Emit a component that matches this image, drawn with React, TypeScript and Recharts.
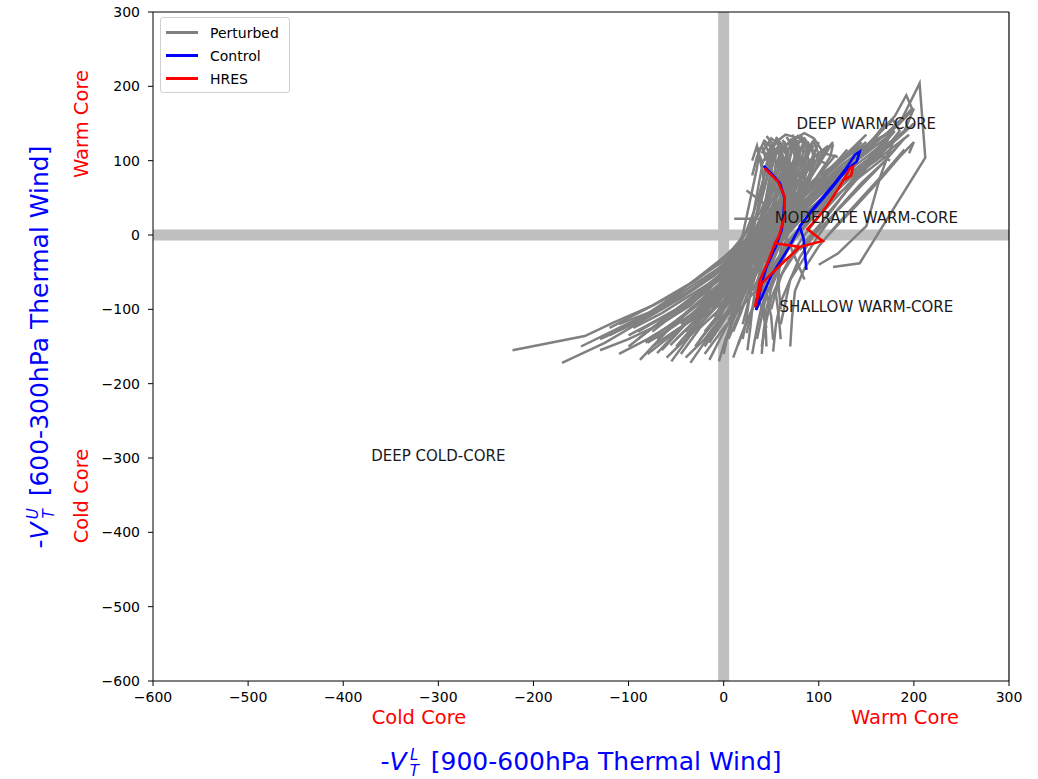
import React from 'react';
import { ComposedChart, Line, XAxis, YAxis, ReferenceLine, ReferenceDot } from 'recharts';

type Pt = [number, number];

const DOMAIN: [number, number] = [-600, 300];
const X_TICKS = [-600, -500, -400, -300, -200, -100, 0, 100, 200, 300];
const Y_TICKS = [-600, -500, -400, -300, -200, -100, 0, 100, 200, 300];

// deterministic runs
const CONTROL: Pt[] = [
  [42, 93], [50, 83], [59, 70], [64, 50], [63, 29], [61, 7], [55, -15], [45, -43], [40, -65], [34, -101],
  [50, -55], [68, -18], [80, 11], [91, 31], [115, 67], [129, 90], [138, 108], [143, 112], [140, 99],
  [128, 86], [105, 50], [88, 25], [80, 12], [84, -5], [87, -47],
];
const HRES: Pt[] = [
  [43, 90], [57, 72], [64, 52], [64, 25], [58, -2], [54, -11], [46, -38], [38, -61], [33, -97], [40, -65],
  [60, -40], [80, -16], [54, -11], [80, -16], [104, -8], [88, 8], [98, 22], [108, 38], [122, 65], [133, 90],
  [136, 92], [134, 80], [127, 74],
];

// ensemble members
const pf01: Pt[] = [[-222, -155], [-146, -136], [-116, -118], [-75, -95], [-35, -65], [0, -35], [25, -5], [45, 25], [60, 60], [70, 95], [62, 120], [50, 100]];
const pf02: Pt[] = [[-170, -172], [-125, -145], [-85, -115], [-45, -85], [-10, -55], [15, -25], [35, 5], [55, 40], [75, 75], [95, 105], [110, 120], [100, 95]];
const pf03: Pt[] = [[-110, -120], [-70, -100], [-35, -75], [-5, -45], [20, -15], [45, 15], [70, 45], [100, 80], [135, 110], [170, 135], [190, 160]];
const pf04: Pt[] = [[-88, -168], [-60, -130], [-30, -95], [0, -60], [25, -30], [50, 0], [80, 40], [115, 80], [150, 115], [185, 150], [206, 204], [212, 104], [143, -38], [115, -43]];
const pf05: Pt[] = [[-82, -145], [-50, -115], [-20, -85], [10, -50], [30, -20], [45, 10], [60, 45], [70, 80], [80, 110], [75, 130], [60, 115]];
const pf06: Pt[] = [[-70, -159], [-45, -125], [-15, -95], [10, -65], [30, -35], [50, -5], [70, 25], [95, 60], [125, 95], [150, 120], [140, 100]];
const pf07: Pt[] = [[-56, -148], [-30, -115], [-5, -85], [15, -55], [35, -25], [55, 10], [75, 45], [90, 80], [95, 110], [85, 130], [70, 115]];
const pf08: Pt[] = [[-35, -172], [-15, -135], [5, -100], [20, -70], [35, -40], [50, -10], [65, 25], [80, 60], [100, 95], [115, 125], [105, 110]];
const pf09: Pt[] = [[-15, -168], [0, -130], [15, -95], [30, -60], [45, -30], [60, 0], [80, 30], [110, 65], [140, 95], [170, 125], [180, 140]];
const pf10: Pt[] = [[-25, -141], [-5, -110], [10, -80], [25, -50], [40, -20], [50, 15], [55, 50], [50, 90], [40, 120], [45, 100]];
const pf11: Pt[] = [[24, -132], [30, -100], [40, -70], [55, -40], [70, -10], [90, 20], [115, 55], [140, 85], [165, 110], [175, 125]];
const pf12: Pt[] = [[15, -148], [25, -115], [35, -85], [45, -55], [55, -25], [65, 5], [80, 35], [100, 65], [125, 95], [150, 115]];
const pf13: Pt[] = [[52, -157], [55, -120], [60, -90], [70, -60], [85, -30], [100, 0], [120, 35], [145, 70], [170, 100], [190, 130]];
const pf14: Pt[] = [[52, -141], [50, -110], [45, -80], [45, -50], [50, -20], [55, 15], [60, 50], [65, 85], [60, 120], [50, 130], [40, 110]];
const pf15: Pt[] = [[-60, -130], [-35, -100], [-10, -75], [15, -45], [35, -15], [55, 20], [70, 50], [85, 85], [90, 118], [80, 135]];
const pf16: Pt[] = [[-45, -160], [-25, -125], [0, -95], [20, -65], [40, -35], [60, -5], [85, 30], [115, 60], [145, 90], [170, 115], [200, 150]];
const pf17: Pt[] = [[0, -150], [10, -115], [20, -85], [30, -55], [40, -25], [50, 5], [60, 40], [70, 75], [75, 105], [70, 125]];
const pf18: Pt[] = [[30, -160], [35, -125], [40, -95], [50, -65], [60, -35], [75, -5], [95, 25], [120, 55], [150, 85], [180, 115]];
const pf19: Pt[] = [[-100, -150], [-70, -120], [-40, -90], [-10, -60], [15, -30], [35, 0], [55, 30], [70, 65], [80, 100], [75, 125]];
const pf20: Pt[] = [[-5, -125], [10, -95], [25, -65], [40, -35], [55, -10], [70, 20], [90, 50], [115, 80], [140, 105], [160, 125]];
const pf21: Pt[] = [[-120, -135], [-85, -110], [-50, -80], [-20, -50], [5, -25], [30, 0], [50, 30], [65, 60], [75, 95], [85, 125], [90, 110]];
const pf22: Pt[] = [[-65, -155], [-40, -120], [-15, -90], [10, -60], [30, -30], [45, 0], [60, 30], [75, 60], [90, 95], [100, 125]];
const pf23: Pt[] = [[-30, -150], [-10, -115], [10, -85], [30, -55], [50, -25], [70, 5], [95, 40], [125, 75], [160, 110], [190, 140]];
const pf24: Pt[] = [[-80, -160], [-50, -130], [-25, -100], [0, -70], [20, -40], [40, -10], [60, 20], [80, 50], [95, 85], [105, 115]];
const pf25: Pt[] = [[40, -150], [45, -115], [50, -85], [60, -55], [75, -25], [95, 5], [115, 35], [135, 70], [155, 105], [170, 130]];
const pf26: Pt[] = [[10, -165], [20, -130], [30, -100], [40, -70], [50, -40], [60, -10], [70, 25], [75, 60], [70, 95], [55, 115], [45, 95]];
const pf27: Pt[] = [[-50, -140], [-25, -110], [0, -80], [20, -50], [40, -20], [60, 10], [80, 45], [105, 80], [130, 110], [150, 135]];
const pf28: Pt[] = [[-40, -130], [-20, -100], [0, -70], [15, -40], [25, -10], [30, 20], [35, 55], [40, 90], [35, 120], [30, 100]];
const pf29: Pt[] = [[-90, -140], [-60, -110], [-30, -85], [-5, -55], [20, -25], [40, 5], [55, 35], [65, 70], [70, 105], [75, 130], [65, 120]];
const pf30: Pt[] = [[5, -140], [15, -110], [25, -80], [35, -50], [45, -20], [55, 10], [65, 45], [75, 80], [80, 115], [72, 135]];
const pf31: Pt[] = [[-20, -160], [0, -125], [20, -95], [40, -65], [55, -35], [70, -5], [90, 25], [115, 60], [140, 90], [160, 110], [175, 100]];
const pf32: Pt[] = [[60, -120], [65, -90], [70, -60], [80, -30], [95, 0], [110, 30], [130, 60], [150, 90], [170, 115], [175, 140]];
const pf33: Pt[] = [[-10, -135], [5, -105], [20, -75], [35, -45], [50, -15], [62, 15], [72, 50], [82, 85], [88, 118], [80, 130]];
const pf34: Pt[] = [[-130, -140], [-95, -120], [-60, -95], [-30, -70], [0, -45], [25, -20], [50, 10], [75, 40], [100, 70], [125, 100], [145, 125]];
const pf35: Pt[] = [[35, -140], [40, -110], [45, -80], [55, -50], [65, -20], [80, 10], [100, 40], [125, 70], [150, 100], [165, 120]];
const pf36: Pt[] = [[-55, -170], [-35, -135], [-10, -100], [15, -70], [35, -40], [50, -10], [60, 20], [65, 55], [65, 90], [58, 125]];
const pf37: Pt[] = [[11, 22], [45, 22], [60, 40], [72, 72], [80, 105], [78, 128]];
const pf38: Pt[] = [[24, 60], [40, 45], [55, 25], [65, 0], [75, -30], [85, -60]];
const pf39: Pt[] = [[60, 0], [90, 40], [120, 80], [150, 120], [180, 160], [192, 188], [198, 170], [170, 130], [130, 90]];
const pf40: Pt[] = [[80, -20], [110, 20], [140, 60], [170, 100], [178, 125], [165, 80], [150, 12], [120, -25], [100, -40]];
const pf41: Pt[] = [[30, -30], [70, 20], [110, 70], [150, 120], [178, 155], [185, 140], [160, 100]];
const pf42: Pt[] = [[45, 100], [55, 125], [65, 110], [78, 133], [88, 115], [95, 128], [85, 95]];
const pf43: Pt[] = [[-150, -150], [-110, -125], [-70, -100], [-35, -70], [0, -40], [30, -10], [60, 25], [90, 60], [120, 95], [150, 125]];
const pf44: Pt[] = [[-45, -120], [-20, -90], [5, -60], [30, -35], [55, -5], [85, 30], [120, 65], [160, 100], [195, 135]];
const pf45: Pt[] = [[70, -150], [72, -110], [75, -75], [85, -45], [100, -15], [120, 15], [145, 50], [170, 85], [190, 115]];
const pf46: Pt[] = [[-20, -150], [-5, -120], [10, -100], [15, -70], [25, -45], [30, -15], [40, 15], [45, 45], [50, 80], [48, 110], [55, 125]];
const pf47: Pt[] = [[-40, -165], [-20, -140], [-5, -115], [5, -85], [15, -60], [20, -30], [30, 0], [35, 30], [40, 65], [45, 95], [50, 118], [42, 128]];
const pf48: Pt[] = [[-60, -115], [-35, -95], [-15, -70], [0, -50], [10, -25], [20, 0], [25, 30], [30, 60], [35, 90], [38, 118]];
const pf49: Pt[] = [[20, -120], [25, -95], [30, -70], [35, -45], [40, -20], [45, 5], [52, 35], [60, 65], [68, 95], [72, 120], [66, 132]];
const pf50: Pt[] = [[-75, -130], [-50, -105], [-25, -80], [-5, -60], [10, -40], [25, -20], [40, 5], [55, 30], [70, 55], [85, 80], [95, 100]];
const pf51: Pt[] = [[0, -160], [5, -130], [10, -105], [20, -80], [30, -60], [40, -35], [55, -10], [70, 15], [85, 40], [100, 65], [110, 85]];
const pf52: Pt[] = [[45, -125], [40, -100], [35, -75], [38, -50], [42, -25], [48, 0], [55, 28], [62, 58], [70, 90], [78, 115], [90, 125]];
const pf53: Pt[] = [[-95, -125], [-65, -105], [-40, -85], [-15, -65], [5, -45], [20, -25], [35, -5], [50, 20], [62, 50], [70, 80], [80, 105]];
const pf54: Pt[] = [[-10, -110], [0, -90], [12, -65], [25, -40], [38, -15], [50, 10], [65, 35], [80, 60], [92, 85], [100, 108], [95, 125]];
const pf55: Pt[] = [[25, -155], [28, -125], [30, -100], [33, -75], [38, -50], [45, -25], [55, 0], [65, 25], [75, 50], [85, 75], [90, 100], [82, 122]];
const pf56: Pt[] = [[-30, -120], [-12, -100], [0, -80], [10, -60], [18, -35], [25, -10], [32, 15], [38, 40], [42, 70], [40, 100], [35, 115]];
const pf57: Pt[] = [[60, -140], [58, -110], [55, -80], [58, -50], [62, -20], [70, 10], [80, 40], [90, 70], [95, 100], [92, 122]];
const pf58: Pt[] = [[-50, -150], [-30, -120], [-15, -95], [0, -75], [12, -50], [25, -25], [40, -2], [58, 22], [78, 48], [100, 75], [120, 100], [130, 115]];
const pf59: Pt[] = [[10, -130], [18, -105], [25, -80], [32, -55], [40, -30], [50, -5], [60, 20], [68, 45], [74, 72], [78, 98], [75, 118]];
const pf60: Pt[] = [[-15, -145], [-2, -118], [8, -92], [18, -68], [28, -45], [38, -22], [48, 2], [58, 28], [68, 55], [78, 82], [86, 108], [95, 120]];
const pf61: Pt[] = [[35, -100], [40, -75], [45, -50], [52, -25], [60, 0], [68, 25], [78, 50], [90, 75], [102, 98], [108, 118]];
const pf62: Pt[] = [[-70, -140], [-45, -112], [-22, -88], [-2, -65], [12, -42], [22, -18], [30, 8], [36, 35], [42, 62], [48, 90], [52, 112]];
const pf63: Pt[] = [[5, -115], [15, -90], [22, -65], [28, -40], [34, -15], [42, 10], [50, 35], [58, 62], [64, 88], [68, 112], [62, 128]];
const pf64: Pt[] = [[40, -160], [42, -130], [45, -100], [50, -72], [58, -45], [68, -18], [80, 8], [95, 35], [110, 60], [125, 85], [135, 102]];
const pf65: Pt[] = [[-35, -135], [-18, -110], [-4, -88], [8, -65], [20, -42], [32, -18], [44, 6], [56, 30], [66, 56], [74, 84], [78, 110], [70, 126]];
const pf66: Pt[] = [[15, -95], [22, -70], [30, -48], [40, -25], [50, -2], [62, 20], [75, 42], [90, 65], [105, 88], [118, 108]];
const pf67: Pt[] = [[-5, -100], [5, -78], [14, -55], [22, -32], [30, -8], [38, 18], [46, 44], [54, 70], [60, 96], [62, 120], [55, 132]];
const pf68: Pt[] = [[50, -100], [55, -75], [62, -50], [72, -25], [85, 0], [100, 25], [118, 50], [138, 78], [158, 105], [172, 128]];
const pf69: Pt[] = [[30, -75], [38, -55], [46, -35], [55, -15], [65, 8], [75, 32], [88, 58], [100, 82], [112, 105], [115, 122]];
const pf70: Pt[] = [[-25, -95], [-10, -75], [2, -55], [14, -35], [25, -15], [35, 8], [45, 32], [55, 58], [62, 85], [66, 110]];
const pf71: Pt[] = [[40, 95], [50, 120], [65, 135], [80, 130], [92, 118], [100, 100], [110, 95]];
const pf72: Pt[] = [[55, 90], [60, 115], [72, 128], [85, 137], [95, 130], [105, 110], [120, 105]];
const pf73: Pt[] = [[30, 80], [35, 105], [42, 125], [48, 110], [55, 128], [60, 112]];
const pf74: Pt[] = [[90, 40], [115, 70], [140, 100], [165, 130], [185, 150], [200, 170], [190, 140], [160, 105]];
const pf75: Pt[] = [[70, 30], [100, 60], [130, 95], [155, 125], [170, 150], [160, 130]];
const pf76: Pt[] = [[110, 0], [140, 40], [165, 75], [185, 105], [200, 125], [195, 110]];
const pf77: Pt[] = [[-60, -165], [-40, -140], [-25, -115], [-10, -90], [5, -70], [18, -48], [28, -25], [36, 0], [42, 28], [46, 58], [50, 88], [56, 112], [62, 124]];
const pf78: Pt[] = [[-100, -135], [-75, -118], [-50, -100], [-28, -80], [-8, -58], [8, -38], [22, -15], [34, 10], [44, 38], [52, 66], [58, 95], [60, 118]];
const pf79: Pt[] = [[-40, -105], [-22, -85], [-8, -62], [5, -40], [15, -18], [24, 6], [32, 32], [38, 58], [44, 84], [50, 108], [58, 120]];
const pf80: Pt[] = [[20, -140], [24, -112], [27, -86], [30, -60], [34, -35], [40, -10], [46, 16], [52, 42], [58, 70], [62, 98], [60, 122]];
const pf81: Pt[] = [[-5, -170], [2, -140], [10, -115], [18, -90], [26, -66], [34, -42], [42, -18], [52, 8], [62, 34], [72, 62], [80, 90], [84, 115]];
const pf82: Pt[] = [[-130, -155], [-100, -140], [-70, -122], [-45, -102], [-22, -80], [-5, -58], [10, -35], [22, -10], [32, 18], [40, 48], [46, 78], [48, 105]];
const pf83: Pt[] = [[-80, -145], [-55, -125], [-32, -105], [-12, -82], [4, -60], [16, -36], [26, -12], [36, 14], [46, 40], [55, 68], [64, 96], [70, 122]];
const pf84: Pt[] = [[45, -150], [44, -120], [42, -92], [42, -65], [45, -38], [50, -12], [56, 16], [62, 44], [66, 72], [68, 100], [64, 126]];
const pf85: Pt[] = [[-20, -130], [-6, -108], [6, -86], [16, -64], [26, -42], [36, -20], [46, 4], [56, 30], [65, 58], [72, 86], [76, 112], [70, 130]];
const pf86: Pt[] = [[60, -100], [58, -72], [58, -45], [60, -18], [65, 10], [72, 38], [80, 66], [86, 94], [88, 118], [82, 132]];
const pf87: Pt[] = [[-110, -160], [-80, -140], [-52, -118], [-28, -95], [-8, -72], [8, -50], [20, -28], [30, -5], [38, 20], [44, 46], [48, 74], [52, 100], [48, 124]];
const pf88: Pt[] = [[0, -95], [10, -72], [20, -50], [28, -28], [35, -5], [42, 20], [48, 46], [52, 72], [55, 98], [52, 122], [45, 133]];
const pf89: Pt[] = [[-90, -130], [-60, -108], [-35, -88], [-12, -68], [8, -48], [25, -28], [40, -6], [55, 18], [68, 45], [78, 75]];
const pf90: Pt[] = [[-75, -150], [-50, -128], [-25, -108], [-5, -88], [15, -66], [32, -44], [48, -20], [62, 6], [75, 32], [88, 60]];
const pf91: Pt[] = [[-120, -125], [-90, -105], [-60, -85], [-30, -62], [-8, -40], [10, -18], [25, 5], [38, 30], [48, 58], [55, 88]];

const PERTURBED: Pt[][] = [
  pf01, pf02, pf03, pf04, pf05, pf06, pf07, pf08, pf09, pf10, pf11, pf12, pf13, pf14, pf15,
  pf16, pf17, pf18, pf19, pf20, pf21, pf22, pf23, pf24, pf25, pf26, pf27, pf28, pf29, pf30,
  pf31, pf32, pf33, pf34, pf35, pf36, pf37, pf38, pf39, pf40, pf41, pf42, pf43, pf44, pf45,
  pf46, pf47, pf48, pf49, pf50, pf51, pf52, pf53, pf54, pf55, pf56, pf57, pf58, pf59, pf60,
  pf61, pf62, pf63, pf64, pf65, pf66, pf67, pf68, pf69, pf70, pf71, pf72, pf73, pf74, pf75,
  pf76, pf77, pf78, pf79, pf80, pf81, pf82, pf83, pf84, pf85, pf86, pf87, pf88, pf89, pf90, pf91,
];

const REGION_LABELS = [
  { text: 'DEEP WARM-CORE', x: 150, y: 150 },
  { text: 'MODERATE WARM-CORE', x: 150, y: 23 },
  { text: 'SHALLOW WARM-CORE', x: 150, y: -97 },
  { text: 'DEEP COLD-CORE', x: -300, y: -297 },
];

const LEGEND_ITEMS = [
  { name: 'Perturbed', color: '#808080' },
  { name: 'Control', color: '#0000ff' },
  { name: 'HRES', color: '#ff0000' },
];

const FONT = '"DejaVu Sans", sans-serif';
const BAND = '#bfbfbf';

const toPts = (track: Pt[]) => track.map(([x, y]) => ({ x, y }));
const fmtTick = (v: number) => (v < 0 ? `\u2212${Math.abs(v)}` : `${v}`);

// the thick grey zero lines, drawn as series so the tracks go over them
const vBand = DOMAIN.map((y) => ({ x: 0, y }));
const hBand = DOMAIN.map((x) => ({ x, y: 0 }));

function VT({ sup }: { sup: string }) {
  return (
    <span style={{ whiteSpace: 'nowrap' }}>
      <span>-</span>
      <span style={{ fontStyle: 'italic', marginRight: 3 }}>V</span>
      <span
        style={{
          display: 'inline-flex',
          flexDirection: 'column',
          verticalAlign: 'middle',
          fontSize: '0.6em',
          lineHeight: 1.1,
          fontStyle: 'italic',
          marginRight: 4,
        }}
      >
        <span>{sup}</span>
        <span>T</span>
      </span>
    </span>
  );
}

export default function App() {
  const tickStyle = { fill: '#000', fontSize: 14, fontFamily: FONT };
  const red = { position: 'absolute' as const, color: '#ff0000', fontSize: 19.5, fontFamily: FONT, whiteSpace: 'nowrap' as const };

  return (
    <div style={{ position: 'absolute', left: 0, top: 0, width: 1038, height: 779, background: '#fff', fontFamily: FONT }}>
      <ComposedChart width={1038} height={779} margin={{ top: 12, right: 29, bottom: 68, left: 0 }}>
        <XAxis
          dataKey="x"
          type="number"
          domain={DOMAIN}
          ticks={X_TICKS}
          tickFormatter={fmtTick}
          allowDataOverflow
          height={30}
          tick={tickStyle}
          tickSize={5}
          tickMargin={6}
          axisLine={{ stroke: '#000' }}
          tickLine={{ stroke: '#000' }}
        />
        <YAxis
          type="number"
          domain={DOMAIN}
          ticks={Y_TICKS}
          tickFormatter={fmtTick}
          allowDataOverflow
          width={153}
          tick={tickStyle}
          tickSize={5}
          tickMargin={8}
          axisLine={{ stroke: '#000' }}
          tickLine={{ stroke: '#000' }}
        />

        <Line data={vBand} dataKey="y" type="linear" stroke={BAND} strokeWidth={11} dot={false} activeDot={false} isAnimationActive={false} />
        <Line data={hBand} dataKey="y" type="linear" stroke={BAND} strokeWidth={11} dot={false} activeDot={false} isAnimationActive={false} />

        {PERTURBED.map((track, i) => (
          <Line
            key={`pf${i}`}
            data={toPts(track)}
            dataKey="y"
            type="linear"
            stroke="#808080"
            strokeWidth={2.5}
            dot={false}
            activeDot={false}
            isAnimationActive={false}
          />
        ))}
        <Line data={toPts(CONTROL)} dataKey="y" type="linear" stroke="#0000ff" strokeWidth={2.6} dot={false} activeDot={false} isAnimationActive={false} />
        <Line data={toPts(HRES)} dataKey="y" type="linear" stroke="#ff0000" strokeWidth={2.6} dot={false} activeDot={false} isAnimationActive={false} />

        {/* top and right spines */}
        <ReferenceLine x={DOMAIN[1]} stroke="#000" strokeWidth={1.2} />
        <ReferenceLine y={DOMAIN[1]} stroke="#000" strokeWidth={1.2} />

        {REGION_LABELS.map((l) => (
          <ReferenceDot
            key={l.text}
            x={l.x}
            y={l.y}
            r={0}
            fill="none"
            stroke="none"
            ifOverflow="visible"
            label={{ value: l.text, position: 'center', fill: '#1a1a1a', fontSize: 15, fontFamily: FONT }}
          />
        ))}
      </ComposedChart>

      {/* legend */}
      <div
        style={{
          position: 'absolute',
          left: 160,
          top: 17,
          width: 130,
          height: 76,
          border: '1px solid #d0d0d0',
          borderRadius: 3,
          background: 'rgba(255,255,255,0.8)',
          boxSizing: 'border-box',
          paddingTop: 3,
        }}
      >
        {LEGEND_ITEMS.map((it) => (
          <div key={it.name} style={{ display: 'flex', alignItems: 'center', height: 23 }}>
            <span style={{ display: 'inline-block', width: 32, height: 2.6, background: it.color, marginLeft: 5, marginRight: 12 }} />
            <span style={{ fontSize: 14, color: '#000' }}>{it.name}</span>
          </div>
        ))}
      </div>

      {/* axis titles */}
      <div style={{ position: 'absolute', left: 153, width: 856, top: 744, textAlign: 'center', color: '#0000ff', fontSize: 25, lineHeight: '36px', whiteSpace: 'nowrap' }}>
        <VT sup="L" /> [900-600hPa Thermal Wind]
      </div>
      <div
        style={{
          position: 'absolute',
          left: 40 - 300,
          top: 347 - 18,
          width: 600,
          height: 36,
          lineHeight: '36px',
          textAlign: 'center',
          color: '#0000ff',
          fontSize: 25,
          whiteSpace: 'nowrap',
          transform: 'rotate(-90deg)',
        }}
      >
        <VT sup="U" /> [600-300hPa Thermal Wind]
      </div>

      <div style={{ ...red, left: 419 - 60, width: 120, textAlign: 'center', top: 706 }}>Cold Core</div>
      <div style={{ ...red, left: 905 - 60, width: 120, textAlign: 'center', top: 706 }}>Warm Core</div>
      <div style={{ ...red, left: 83 - 60, width: 120, height: 26, textAlign: 'center', top: 124 - 13, transform: 'rotate(-90deg)' }}>Warm Core</div>
      <div style={{ ...red, left: 83 - 60, width: 120, height: 26, textAlign: 'center', top: 496 - 13, transform: 'rotate(-90deg)' }}>Cold Core</div>
    </div>
  );
}
